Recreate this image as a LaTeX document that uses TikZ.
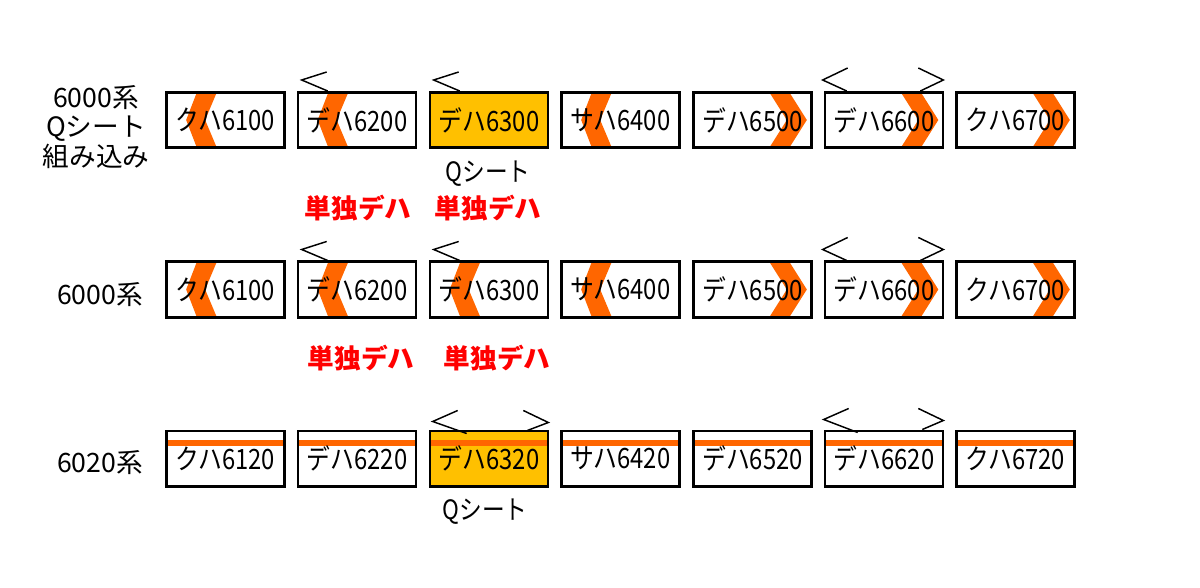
\documentclass[tikz,border=0pt]{standalone}
\usepackage{fontspec}
\setmainfont{Noto Sans CJK JP}
\newfontfamily\carfont{Noto Sans CJK JP}[FakeStretch=0.85]
\usetikzlibrary{backgrounds}
\definecolor{obi}{HTML}{FF6600}
\definecolor{qkiiro}{HTML}{FFC000}

\begin{document}
\begin{tikzpicture}
    [x=0.75pt, y=-0.75pt,
     car/.style={rectangle, draw, line width=2pt, minimum width=88.5pt, minimum height=41.5pt, inner sep=0pt, font=\carfont\fontsize{21}{24}\selectfont},
     chevl/.pic={\fill[obi] (32,-28.5) -- (52,-28.5) -- (40,0) -- (52,28.5) -- (32,28.5) -- (21,0) -- cycle;},
     chevr/.pic={\fill[obi] (-44,-28.5) -- (-24,-28.5) -- (-6,0) -- (-24,28.5) -- (-44,28.5) -- (-26,0) -- cycle;},
     obisen/.pic={\fill[obi] (0,10) rectangle (120,16);},
     dirmark/.style={line width=1.1pt, line join=miter},
     tandoku/.style={text=red, font=\bfseries\fontsize{20}{24}\selectfont},
     keito/.style={align=center, font=\fontsize{20}{22}\selectfont},
     qnote/.style={font=\carfont\fontsize{20}{24}\selectfont}]
    \useasboundingbox (0,0) rectangle (1200,588);

    % 6000系 Qシート組み込み
    \node[keito] (ka) at (96,127) {6000系\\Qシート\\組み込み};
    \node[car] (a1) at (225.5,120) {クハ6100};
    \node[car] (a2) at (357,120) {デハ6200};
    \node[car] (a3) at (489,120) {デハ6300};
    \node[car] (a4) at (620.5,120) {サハ6400};
    \node[car] (a5) at (752.5,120) {デハ6500};
    \node[car] (a6) at (884,120) {デハ6600};
    \node[car] (a7) at (1015.5,120) {クハ6700};
    \draw[dirmark] ([shift={(30,-19)}]a2.north west) -- ++(-25,8) -- ++(26,11);
    \draw[dirmark] ([shift={(30,-19)}]a3.north west) -- ++(-25,8) -- ++(26,11);
    \draw[dirmark] ([shift={(24,-23)}]a6.north west) -- ++(-25,12) -- ++(24,11);
    \draw[dirmark] ([shift={(-26,-23)}]a6.north east) -- ++(25,12) -- ++(-23,11);
    \node[qnote] (qa) at (488,174) {Qシート};
    \node[tandoku] (ta1) at (358,208) {単独デハ};
    \node[tandoku] (ta2) at (488,208) {単独デハ};

    % 6000系
    \node[keito] (kb) at (100,295) {6000系};
    \node[car] (b1) at (225.5,289.5) {クハ6100};
    \node[car] (b2) at (357,289.5) {デハ6200};
    \node[car] (b3) at (489,289.5) {デハ6300};
    \node[car] (b4) at (620.5,289.5) {サハ6400};
    \node[car] (b5) at (752.5,289.5) {デハ6500};
    \node[car] (b6) at (884,289.5) {デハ6600};
    \node[car] (b7) at (1015.5,289.5) {クハ6700};
    \draw[dirmark] ([shift={(30,-19)}]b2.north west) -- ++(-25,8) -- ++(26,11);
    \draw[dirmark] ([shift={(30,-19)}]b3.north west) -- ++(-25,8) -- ++(26,11);
    \draw[dirmark] ([shift={(24,-23)}]b6.north west) -- ++(-25,12) -- ++(24,11);
    \draw[dirmark] ([shift={(-26,-23)}]b6.north east) -- ++(25,12) -- ++(-23,11);
    \node[tandoku] (tb1) at (361,358) {単独デハ};
    \node[tandoku] (tb2) at (497,358) {単独デハ};

    % 6020系
    \node[keito] (kc) at (100,463) {6020系};
    \node[car] (c1) at (225.5,458.5) {クハ6120};
    \node[car] (c2) at (357,458.5) {デハ6220};
    \node[car] (c3) at (489,458.5) {デハ6320};
    \node[car] (c4) at (620.5,458.5) {サハ6420};
    \node[car] (c5) at (752.5,458.5) {デハ6520};
    \node[car] (c6) at (884,458.5) {デハ6620};
    \node[car] (c7) at (1015.5,458.5) {クハ6720};
    \draw[dirmark] ([shift={(29,-19)}]c3.north west) -- ++(-25,11) -- ++(34,12);
    \draw[dirmark] ([shift={(-26,-19)}]c3.north east) -- ++(25,12) -- ++(-21,8);
    \draw[dirmark] ([shift={(25,-21)}]c6.north west) -- ++(-25,11) -- ++(34,13);
    \draw[dirmark] ([shift={(-26,-21)}]c6.north east) -- ++(25,12) -- ++(-21,9);
    \node[qnote] (qc) at (485,512) {Qシート};

    % 塗装 (背面)
    \begin{scope}[on background layer]
        \fill[qkiiro] (a3.north west) rectangle (a3.south east);
        \fill[qkiiro] (c3.north west) rectangle (c3.south east);
        \pic at (a1.west) {chevl};
        \pic at (a2.west) {chevl};
        \pic at (a4.west) {chevl};
        \pic at (a5.east) {chevr};
        \pic at (a6.east) {chevr};
        \pic at (a7.east) {chevr};
        \pic at (b1.west) {chevl};
        \pic at (b2.west) {chevl};
        \pic at (b3.west) {chevl};
        \pic at (b4.west) {chevl};
        \pic at (b5.east) {chevr};
        \pic at (b6.east) {chevr};
        \pic at (b7.east) {chevr};
        \pic at (c1.north west) {obisen};
        \pic at (c2.north west) {obisen};
        \pic at (c3.north west) {obisen};
        \pic at (c4.north west) {obisen};
        \pic at (c5.north west) {obisen};
        \pic at (c6.north west) {obisen};
        \pic at (c7.north west) {obisen};
    \end{scope}

\end{tikzpicture}
\end{document}
